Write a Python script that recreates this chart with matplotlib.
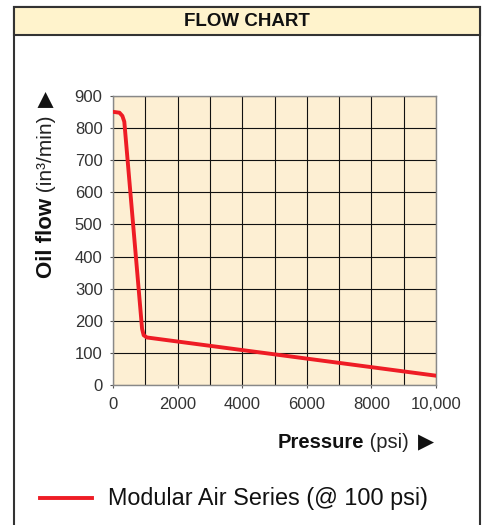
import matplotlib

matplotlib.use("Agg")
import matplotlib.pyplot as plt
from matplotlib.patches import Rectangle
from matplotlib.lines import Line2D

plt.rcParams["font.family"] = ["Liberation Sans", "DejaVu Sans"]

# Data
pressure = [50, 200, 290, 350, 900, 950, 1050, 10000]
oil_flow = [850, 848, 838, 820, 175, 155, 148, 29]
x_ticks = [0, 2000, 4000, 6000, 8000, 10000]
x_tick_labels = ["0", "2000", "4000", "6000", "8000", "10,000"]
y_ticks = list(range(0, 1000, 100))
series_label = "Modular Air Series (@ 100 psi)"

W, H = 484, 525
fig = plt.figure(figsize=(W / 100, H / 100), dpi=100)


def fx(px):
    return px / W


def fy(py):
    return 1 - py / H


# outer frame and header band
fig.patches.append(Rectangle((fx(14), fy(530)), fx(480) - fx(14), fy(7) - fy(530),
                             transform=fig.transFigure, facecolor="white",
                             edgecolor="#333333", linewidth=1.5, zorder=-2))
fig.patches.append(Rectangle((fx(14), fy(35)), fx(480) - fx(14), fy(7) - fy(35),
                             transform=fig.transFigure, facecolor="#FFF3CC",
                             edgecolor="#333333", linewidth=1.5, zorder=-1))
fig.text(fx(247), fy(21.5), "FLOW CHART", ha="center", va="center",
         fontsize=13.5, fontweight="bold", color="#111111")

ax = fig.add_axes([fx(113), fy(385), fx(436) - fx(113), fy(96) - fy(385)])
ax.set_zorder(2)
ax.set_facecolor("#FDEFD3")
ax.plot(pressure, oil_flow, color="#EE1C25", linewidth=2.8, zorder=3)
ax.set_xlim(0, 10000)
ax.set_ylim(0, 900)
ax.set_xticks(x_ticks)
ax.set_xticklabels(x_tick_labels)
ax.set_xticks(range(1000, 10000, 2000), minor=True)
ax.set_yticks(y_ticks)
ax.grid(True, which="both", color="#111111", linewidth=0.8)
ax.tick_params(which="major", length=2.5, width=0.8, color="#555555", labelsize=12,
               labelcolor="#333333")
ax.tick_params(which="minor", length=0)
ax.tick_params(axis="y", pad=5)
ax.tick_params(axis="x", pad=6)
for s in ax.spines.values():
    s.set_color("#888888")
    s.set_linewidth(1)

# x axis title: bold word, regular unit, arrow
t1 = fig.text(fx(278), fy(442), "Pressure", ha="left", va="center", fontsize=14.5,
              fontweight="bold", color="#111111")
t2 = ax.annotate(" (psi)", xy=(1, 0.5), xycoords=t1, xytext=(0, 0),
                 textcoords="offset points", ha="left", va="center",
                 fontsize=14.5, color="#222222", annotation_clip=False)
ax.annotate("\u25B6", xy=(1, 0.5), xycoords=t2, xytext=(6, 0),
            textcoords="offset points", ha="left", va="center", fontsize=15,
            color="#111111", family=["DejaVu Sans"], annotation_clip=False)

# y axis title, rotated
u1 = fig.text(fx(46), fy(278), "Oil flow", rotation=90, ha="center", va="bottom",
              fontsize=16, fontweight="bold", color="#111111")
u2 = ax.annotate(" (in\u00b3/min)", xy=(0.5, 1), xycoords=u1, xytext=(0, 0),
                 textcoords="offset points", rotation=90, ha="center", va="bottom",
                 fontsize=15, color="#222222", annotation_clip=False)
ax.annotate("\u25B6", xy=(0.5, 1), xycoords=u2, xytext=(0, 6),
            textcoords="offset points", rotation=90, ha="center", va="bottom",
            fontsize=15, color="#111111", family=["DejaVu Sans"], annotation_clip=False)

# legend
fig.lines.append(Line2D([fx(40), fx(92)], [fy(498), fy(498)], transform=fig.transFigure,
                        color="#EE1C25", linewidth=2.8))
fig.text(fx(108), fy(498), series_label, ha="left", va="center", fontsize=16.8,
         color="#111111")

fig.savefig("out.png", dpi=100)
